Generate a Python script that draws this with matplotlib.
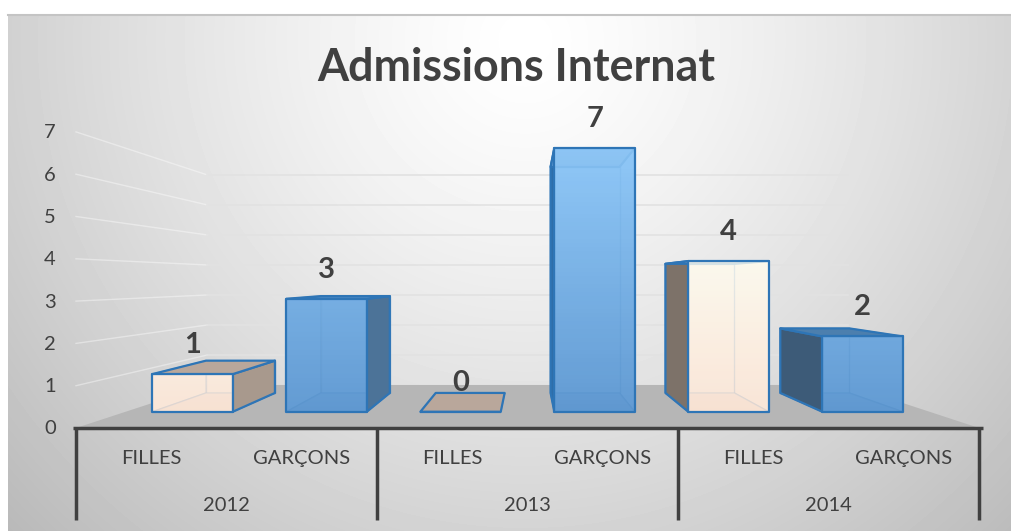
import numpy as np
from matplotlib import pyplot as plt
from matplotlib.patches import Polygon

years = ["2012", "2013", "2014"]
genders = ["FILLES", "GARÇONS"]
admissions = [1, 3, 0, 7, 4, 2]
y_ticks = [0, 1, 2, 3, 4, 5, 6, 7]

plt.rcParams["font.family"] = ["Lato", "DejaVu Sans"]

# perspective set-up, in pixels of the 1012x531 picture
left, right, base = 76, 979, 428
vp_x, vp_y = 528, 280
unit = 42.3
cat_w = (right - left) / 6
bar_w = 0.6 * cat_w
floor_k = 0.41
bar_d = (0.30, 0.757)
text_color = "#404040"
edge = "#2e75b6"


def project(cat, depth, value):
    s = 1 / (1 + floor_k * depth)
    wx = left + cat * cat_w
    wy = base - value * unit
    return vp_x + (wx - vp_x) * s, vp_y + (wy - vp_y) * s


fig = plt.figure(figsize=(10.12, 5.31), dpi=100, facecolor="white")
ax = fig.add_axes([0, 0, 1, 1])
ax.set_xlim(0, 1012)
ax.set_ylim(531, 0)
ax.axis("off")

# background
xx, yy = np.meshgrid(np.arange(8, 1012), np.arange(14, 531))
r = np.hypot(xx - 525, (yy - 40) * 1.0) / 600
bg = np.clip(1 - 0.22 * r ** 1.3, 0, 1)
ax.imshow(bg, extent=(8, 1012, 531, 14), cmap="gray", vmin=0, vmax=1, aspect="auto", zorder=0)
ax.plot([8, 1012], [14.5, 14.5], color="#c4c4c4", lw=1.5, zorder=1)

# walls
for v in y_ticks[1:]:
    xs, ys = zip(project(0, 0, v), project(0, 1, v), project(6, 1, v))
    ax.plot(xs[:2], ys[:2], color="white", alpha=0.4, lw=1.0, zorder=1)
    ax.plot(xs[1:], ys[1:], color="#e2e2e2", lw=1.2, zorder=1)

# floor
ax.add_patch(Polygon([project(0, 0, 0), project(6, 0, 0), project(6, 1, 0), project(0, 1, 0)],
                     color="#b6b6b6", lw=0, zorder=2))


def gradient_face(corners, top_color, bottom_color, alpha, z):
    xs = [c[0] for c in corners]
    ys = [c[1] for c in corners]
    if max(ys) - min(ys) < 1:
        return
    ramp = np.linspace(0, 1, 64)[:, None, None]
    rgba = np.array(top_color + (alpha,))[None, None, :] * (1 - ramp) + np.array(bottom_color + (alpha,))[None, None, :] * ramp
    im = ax.imshow(rgba, extent=(min(xs), max(xs), max(ys), min(ys)), aspect="auto", zorder=z)
    clip = Polygon(corners, transform=ax.transData)
    im.set_clip_path(clip)


def draw_bar(cat, value, front_top, front_bottom, back_color, side_color, top_color, floor_color):
    x0, x1 = cat - bar_w / cat_w / 2, cat + bar_w / cat_w / 2
    d0, d1 = bar_d
    fl, fr = project(x0, d0, 0), project(x1, d0, 0)
    ftl, ftr = project(x0, d0, value), project(x1, d0, value)
    bl, br = project(x0, d1, 0), project(x1, d1, 0)
    btl, btr = project(x0, d1, value), project(x1, d1, value)
    ink = dict(edgecolor=edge, lw=1.6, joinstyle="round")

    # inside faces, seen through the front
    if value > 0:
        ax.add_patch(Polygon([fl, bl, btl, ftl], facecolor=back_color, edgecolor=edge + "80", lw=1, zorder=3))
        ax.add_patch(Polygon([fr, br, btr, ftr], facecolor=back_color, edgecolor=edge + "80", lw=1, zorder=3))
    ax.add_patch(Polygon([bl, br, btr, btl], facecolor=back_color, edgecolor=edge + "80", lw=1, zorder=3))
    ax.add_patch(Polygon([fl, fr, br, bl], facecolor=floor_color, edgecolor=edge + "80", lw=1, zorder=3))
    # side that can be seen depends on which side of the vanishing point the bar is
    if fr[0] < vp_x:
        side = [fr, br, btr, ftr]
    else:
        side = [fl, bl, btl, ftl]
    if value > 0:
        ax.add_patch(Polygon(side, facecolor=side_color, **ink, zorder=4))
    ax.add_patch(Polygon([ftl, ftr, btr, btl], facecolor=top_color, **ink, zorder=4))
    front = [fl, fr, ftr, ftl]
    gradient_face(front, front_top, front_bottom, 0.8, 5)
    ax.add_patch(Polygon(front, fill=False, **ink, zorder=6))


peach = ((1.0, 0.995, 0.95), (0.99, 0.90, 0.84))
blue = ((0.60, 0.82, 1.0), (0.38, 0.60, 0.82))

for i, value in enumerate(admissions):
    cat = i + 0.5
    if i % 2 == 0:
        frac = min(value / 4, 1)
        top = tuple(peach[1][c] + (peach[0][c] - peach[1][c]) * frac for c in range(3))
        draw_bar(cat, value, top, peach[1], "#efe6dc", "#7d7269" if i == 4 else "#a8998d", "#b9a79b", "#e6d3c7")
    else:
        frac = value / 7
        top = tuple(blue[1][c] + (blue[0][c] - blue[1][c]) * frac for c in range(3))
        side = "#3d5b78" if i == 5 else ("#2f6ea8" if i == 3 else "#4c7398")
        draw_bar(cat, value, top, blue[1], "#6ea6dc", side, "#4c7fae" if i == 5 else "#5d94ca", "#5f98d0")
    lx, ly = project(cat, bar_d[0], value)
    ax.text(lx, ly - 29, str(value), ha="center", va="center", fontsize=21, fontweight="bold",
            color=text_color, zorder=7)

# axis lines and category labels
ax.plot([left - 3, right + 4], [base, base], color=text_color, lw=2.5, zorder=7, solid_capstyle="butt")
for i in range(len(years) + 1):
    px = left + i * 2 * cat_w
    ax.plot([px, px], [base, 520], color=text_color, lw=2.5, zorder=7, solid_capstyle="butt")

for i, year in enumerate(years):
    ax.text(left + (i * 2 + 1) * cat_w, 511, year, ha="center", va="baseline", fontsize=14.5, color=text_color)
    for j, gender in enumerate(genders):
        ax.text(left + (i * 2 + j + 0.5) * cat_w, 464, gender, ha="center", va="baseline", fontsize=14.5, color=text_color)

for v in y_ticks:
    ax.text(50, project(0, 0, v)[1] + 1, str(v), ha="center", va="center", fontsize=14.5, color=text_color)

ax.text(516, 68, "Admissions Internat", ha="center", va="center", fontsize=32.3, fontweight="bold", color=text_color)

ax.set_xlim(0, 1012)
ax.set_ylim(531, 0)
plt.savefig("out.png", dpi=100)
plt.close()
